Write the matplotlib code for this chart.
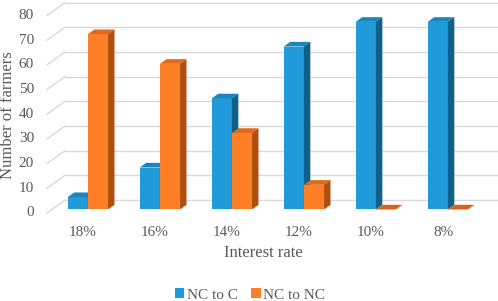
import matplotlib
matplotlib.use("Agg")
import matplotlib.pyplot as plt
from matplotlib.patches import Polygon, Patch

categories = ["18%", "16%", "14%", "12%", "10%", "8%"]
nc_to_c = [5, 17, 45, 66, 76, 76]
nc_to_nc = [71, 59, 31, 10, 0, 0]
series_names = ["NC to C", "NC to NC"]
yticks = [0, 10, 20, 30, 40, 50, 60, 70, 80]

W, H = 498, 301
fig = plt.figure(figsize=(W / 100, H / 100), dpi=100)
ax = fig.add_axes([47 / W, 88 / H, 432 / W, 197.5 / H])
ax.set_xlim(-0.5, len(categories) - 0.5)
ax.set_ylim(0, 80)
ax.axis("off")

FONT = "Liberation Serif"
GRAY = "#595959"
GRID = "#d9d9d9"

# depth vector (data units) for oblique 3D look
DX = 18 / 72.0
DY = 13 / (197.5 / 80)
f0, f1 = 0.27, 0.63
bw = 0.28

# back wall gridlines and left wall diagonals
for v in yticks:
    ax.plot([-0.5, -0.5 + DX], [v, v + DY], color=GRID, lw=1.0, clip_on=False, zorder=0)
    ax.plot([-0.5 + DX, len(categories) - 0.5 + DX], [v + DY, v + DY], color=GRID, lw=1.0,
            clip_on=False, zorder=0)
    ax.text(-0.5 - 13 / 72.0, v, str(v), ha="right", va="center", fontsize=11,
            color=GRAY, family=FONT)

colors = {
    0: dict(front="#209ad8", top="#1a86be", side="#0f5f88"),
    1: dict(front="#fe7f26", top="#e0691b", side="#b04f12"),
}

def draw_bar(x0, x1, h, c, z):
    ax.bar([(x0 + x1) / 2 + f0 * DX], [h], width=x1 - x0, bottom=f0 * DY,
           color=c["front"], edgecolor="none", clip_on=False, zorder=z)
    top = [(x0 + f0 * DX, h + f0 * DY), (x1 + f0 * DX, h + f0 * DY),
           (x1 + f1 * DX, h + f1 * DY), (x0 + f1 * DX, h + f1 * DY)]
    ax.add_patch(Polygon(top, closed=True, facecolor=c["top"] if h > 0 else "#d8621c",
                         edgecolor="none", clip_on=False, zorder=z))
    side = [(x1 + f0 * DX, f0 * DY), (x1 + f1 * DX, f1 * DY),
            (x1 + f1 * DX, h + f1 * DY), (x1 + f0 * DX, h + f0 * DY)]
    ax.add_patch(Polygon(side, closed=True, facecolor=c["side"], edgecolor="none",
                         clip_on=False, zorder=z))

z = 2
for i in range(len(categories)):
    draw_bar(i - bw, i, nc_to_c[i], colors[0], z); z += 1
    draw_bar(i, i + bw, nc_to_nc[i], colors[1], z); z += 1
    ax.text(i, -19 / (197.5 / 80), categories[i], ha="center", va="center",
            fontsize=11, color=GRAY, family=FONT)

fig.text(8 / W, 1 - 115 / H, "Number of farmers", rotation=90, ha="center", va="center",
         fontsize=12, color=GRAY, family=FONT)
fig.text(263 / W, 1 - 253 / H, "Interest rate", ha="center", va="center",
         fontsize=12, color=GRAY, family=FONT)

handles = [Patch(facecolor=colors[0]["front"], edgecolor="none"),
           Patch(facecolor=colors[1]["front"], edgecolor="none")]
leg = fig.legend(handles, series_names, loc="center", bbox_to_anchor=(250 / W, 1 - 295 / H),
                 ncol=2, frameon=False, handlelength=0.6, handleheight=0.6,
                 handletextpad=0.15, columnspacing=0.9,
                 prop=dict(family=FONT, size=11))
for t in leg.get_texts():
    t.set_color(GRAY)

fig.savefig("out.png", dpi=100)
